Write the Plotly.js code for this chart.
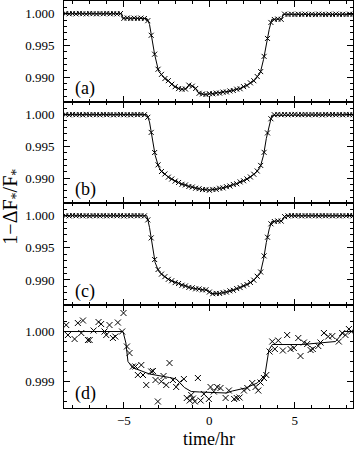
<!DOCTYPE html>
<html>
<head>
<meta charset="utf-8">
<script src="https://cdn.plot.ly/plotly-3.0.1.min.js"></script>
<style>
  html, body { margin: 0; padding: 0; background: #fff; }
  #chart { width: 356px; height: 450px; }
</style>
</head>
<body>
<div id="chart"></div>
<script>
// observation times (hr) shared by panels (a)-(c)
const obsTime = [-8.4,-8.2,-8.0,-7.8,-7.6,-7.4,-7.2,-7.0,-6.8,-6.6,-6.4,-6.2,-6.0,-5.8,-5.6,-5.4,-5.2,
  -5.0,-4.8,-4.6,-4.4,-4.2,-4.0,-3.8,-3.6,-3.4,-3.2,-3.0,-2.8,-2.6,-2.4,-2.2,-2.0,-1.8,-1.6,-1.4,-1.2,
  -1.0,-0.8,-0.6,-0.4,-0.2,0.0,0.2,0.4,0.6,0.8,1.0,1.2,1.4,1.6,1.8,2.0,2.2,2.4,2.6,2.8,3.0,3.2,3.4,
  3.6,3.8,4.0,4.2,4.4,4.6,4.8,5.0,5.2,5.4,5.6,5.8,6.0,6.2,6.4,6.6,6.8,7.0,7.2,7.4,7.6,7.8,8.0,8.2,8.4];

// panel (a)
const fluxA = [1.00003,0.99998,1.00002,0.99997,1.00004,1.00000,0.99996,1.00003,1.00001,0.99997,1.00002,0.99999,
  1.00004,0.99998,1.00001,0.99997,1.00002,
  0.99927,0.99932,0.99925,0.99930,0.99926,0.99931,0.99924,
  0.99890,0.99660,0.99362,0.99125,0.99044,0.98978,0.98945,0.98888,0.98850,0.98820,
  0.98810,0.98814,0.98875,0.98858,0.98822,0.98746,0.98736,0.98727,0.98740,0.98738,
  0.98750,0.98749,0.98765,0.98767,0.98783,0.98790,0.98811,0.98818,0.98851,0.98869,
  0.98911,0.98944,0.99010,0.99088,0.99328,0.99610,0.99862,0.99909,0.99916,0.99911,
  0.99993,
  0.99988,0.99993,0.99987,0.99992,0.99989,0.99994,0.99988,0.99991,0.99986,0.99993,
  0.99990,0.99987,0.99992,0.99988,0.99994,0.99989,0.99991,0.99987,0.99993,0.99990];
const modelTimeA = [-8.5,-5.12,-5.1,-3.65,-3.5,-3.36,-3.2,-2.97,-2.68,-2.39,-1.99,-1.61,-1.32,-1.16,-0.87,
  -0.63,-0.34,0.05,0.64,1.22,1.81,2.29,2.68,2.98,3.17,3.33,3.5,3.65,4.24,4.3,8.4];
const modelA = [1.0000,1.0000,0.99930,0.99925,0.99832,0.99595,0.99358,0.99095,0.99000,0.98938,0.98843,
  0.98806,0.98822,0.98885,0.98843,0.98754,0.98727,0.98738,0.98754,0.98780,0.98822,0.98885,0.98964,
  0.99070,0.99280,0.99516,0.99753,0.99911,0.99915,0.99990,0.99990];

// panel (b)
const fluxB = [1.00002,0.99997,1.00003,0.99999,1.00001,0.99996,1.00004,0.99998,1.00002,1.00000,0.99997,1.00003,
  0.99999,1.00002,0.99996,1.00001,1.00003,0.99998,1.00000,0.99997,1.00002,0.99999,1.00003,0.99998,
  0.99958,0.99720,0.99403,0.99209,0.99104,0.99065,0.99015,0.98986,0.98953,0.98931,
  0.98903,0.98892,0.98868,0.98860,0.98841,0.98834,0.98820,0.98819,0.98809,0.98822,
  0.98823,0.98840,0.98846,0.98865,0.98876,0.98900,0.98911,0.98940,0.98958,0.98987,
  0.99018,0.99061,0.99112,0.99200,0.99406,0.99712,0.99935,
  0.99998,1.00003,0.99999,1.00002,0.99997,1.00001,1.00004,0.99998,1.00000,1.00003,0.99997,1.00002,
  0.99999,1.00001,0.99996,1.00003,0.99999,1.00002,0.99998,1.00001,0.99997,1.00003,1.00000,0.99998];
const modelTimeB = [-8.5,-3.65,-3.5,-3.36,-3.17,-2.97,-2.78,-2.29,-1.71,-1.12,-0.53,-0.04,0.45,1.03,1.62,
  2.2,2.68,2.98,3.17,3.33,3.5,3.65,8.4];
const modelB = [1.0000,1.0000,0.99885,0.99649,0.99361,0.99178,0.99100,0.98995,0.98916,0.98864,0.98827,
  0.98811,0.98827,0.98864,0.98916,0.98984,0.99073,0.99178,0.99361,0.99623,0.99832,0.99990,1.0000];

// panel (c)
const fluxC = [1.00001,0.99997,1.00004,0.99999,1.00002,0.99998,1.00001,0.99996,1.00003,1.00000,0.99998,1.00002,
  0.99997,1.00001,1.00003,0.99999,1.00002,0.99996,1.00001,0.99998,1.00003,0.99999,1.00001,0.99997,
  0.99935,0.99655,0.99318,0.99163,0.99091,0.99052,0.99010,0.98988,0.98959,0.98945,
  0.98918,0.98907,0.98884,0.98878,0.98862,0.98860,0.98846,0.98847,0.98812,0.98786,
  0.98791,0.98790,0.98804,0.98811,0.98831,0.98840,0.98866,0.98882,0.98909,0.98929,
  0.98961,0.98997,0.99057,0.99124,0.99375,0.99665,0.99874,0.99910,0.99919,0.99916,
  0.99986,
  0.99998,1.00002,0.99999,1.00003,0.99997,1.00001,0.99998,1.00002,1.00000,0.99997,
  1.00003,0.99999,1.00001,0.99998,1.00002,0.99997,1.00001,0.99999,1.00003,0.99998];
const modelTimeC = [-8.5,-3.65,-3.5,-3.36,-3.17,-2.97,-2.68,-2.29,-1.71,-1.12,-0.53,-0.05,0.05,0.44,0.83,
  1.42,2.0,2.49,2.98,3.17,3.33,3.5,3.65,4.24,4.44,8.4];
const modelC = [1.0000,1.0000,0.99818,0.99583,0.99271,0.99140,0.99063,0.98995,0.98932,0.98880,0.98854,
  0.98839,0.98792,0.98786,0.98802,0.98844,0.98906,0.98969,0.99104,0.99323,0.99583,0.99792,0.99911,
  0.99920,1.0000,1.0000];

// panel (d)
const timeD = [-8.37,-8.27,-7.88,-7.69,-7.49,-7.39,-7.10,-7.00,-6.77,-6.48,-6.33,-6.13,-6.03,-5.84,-5.64,
  -5.50,-5.35,-5.10,-5.02,-4.82,-4.67,-4.47,-4.32,-4.18,-3.98,-3.88,-3.69,-3.40,-3.30,-3.15,-3.01,-2.81,
  -2.68,-2.52,-2.33,-2.13,-1.94,-1.74,-1.49,-1.32,-1.15,-1.06,-0.96,-0.85,-0.67,-0.51,-0.32,-0.03,0.07,
  0.26,0.46,0.65,0.95,1.14,1.45,1.60,1.77,2.02,2.22,2.51,2.70,2.86,2.99,3.19,3.33,3.52,3.68,3.83,4.03,
  4.30,4.55,4.75,4.94,5.20,5.33,5.53,5.72,5.92,6.05,6.37,6.50,6.70,6.95,7.19,7.57,7.77,7.96,8.16,8.30];
const fluxD = [1.00013,0.99993,0.99985,1.00017,0.99997,1.00022,0.99983,0.99983,1.00002,1.00019,1.00015,
  1.00000,0.99993,1.00013,0.99987,0.99990,1.00018,1.00000,1.00037,0.99970,0.99957,0.99930,0.99930,0.99913,
  0.99933,0.99913,0.99893,0.99920,0.99921,0.99903,0.99860,0.99900,0.99911,0.99893,0.99937,0.99903,0.99889,
  0.99898,0.99905,0.99867,0.99862,0.99873,0.99866,0.99860,0.99907,0.99862,0.99875,0.99865,0.99889,0.99880,
  0.99889,0.99887,0.99867,0.99882,0.99865,0.99867,0.99868,0.99882,0.99887,0.99897,0.99889,0.99882,0.99898,
  0.99907,0.99913,0.99960,0.99980,0.99965,0.99982,0.99962,0.99993,0.99965,0.99967,0.99987,0.99951,0.99978,
  0.99975,0.99963,0.99965,0.99971,0.99978,0.99997,0.99990,0.99991,0.99980,0.99997,0.99993,1.00005,1.00000];
const modelTimeD = [-8.5,-5.05,-4.88,-4.76,-4.5,-3.5,-2.33,-1.94,-1.46,-1.06,-0.57,1.0,1.34,2.12,2.8,3.25,
  3.48,3.68,5.43,7.38,7.87,8.4];
const modelD = [1.0000,1.0000,0.99977,0.99940,0.99928,0.99915,0.99908,0.99905,0.99888,0.99880,0.99879,
  0.99877,0.99881,0.99887,0.99897,0.99913,0.99963,0.99974,0.99974,0.99980,1.0000,1.0000];

const panelLabels = ["(a)", "(b)", "(c)", "(d)"];
const xTitle = "time/hr";
const yTitle = "1\u2212\u0394F<sub>*</sub>/F<sub>*</sub>";

const serif = "'Liberation Serif', 'DejaVu Serif', serif";

function pts(x, y, ax, size) {
  return {
    x: x, y: y, xaxis: "x" + ax, yaxis: "y" + ax,
    type: "scatter", mode: "markers",
    marker: { symbol: "x-thin-open", size: size, color: "black", line: { color: "black", width: 1 } },
    hoverinfo: "skip"
  };
}

function line(x, y, ax) {
  return {
    x: x, y: y, xaxis: "x" + ax, yaxis: "y" + ax,
    type: "scatter", mode: "lines",
    line: { color: "black", width: 1 },
    hoverinfo: "skip"
  };
}

const data = [
  line(modelTimeA, modelA, ""), pts(obsTime, fluxA, "", 5),
  line(modelTimeB, modelB, "2"), pts(obsTime, fluxB, "2", 5),
  line(modelTimeC, modelC, "3"), pts(obsTime, fluxC, "3", 5),
  line(modelTimeD, modelD, "4"), pts(timeD, fluxD, "4", 6)
];

const frame = {
  showline: true, linecolor: "black", linewidth: 1, mirror: "allticks",
  ticks: "inside", ticklen: 6, tickwidth: 1, tickcolor: "black",
  showgrid: false, zeroline: false,
  tickfont: { family: serif, size: 13, color: "black" }
};

function xAxis(anchor, labels) {
  return Object.assign({}, frame, {
    anchor: anchor, range: [-8.5, 8.4], tick0: 0, dtick: 5,
    showticklabels: labels, ticklabelstandoff: 0,
    minor: { dtick: 1, tick0: 0, ticks: "inside", ticklen: 3, tickcolor: "black", showgrid: false }
  });
}

function yAxis(anchor, domain, range, dtick, minorDtick) {
  return Object.assign({}, frame, {
    anchor: anchor, domain: domain, range: range, tick0: 1, dtick: dtick,
    tickformat: ".3f", ticklabelstandoff: 6,
    minor: { dtick: minorDtick, tick0: 1, ticks: "inside", ticklen: 3, tickcolor: "black", showgrid: false }
  });
}

const bigRange = [0.9861, 1.0020];

const layout = {
  width: 356, height: 450,
  margin: { l: 64, r: 3, t: 1, b: 42 },
  paper_bgcolor: "white", plot_bgcolor: "white",
  showlegend: false,
  font: { family: serif, size: 13, color: "black" },
  xaxis: xAxis("y", false),
  xaxis2: xAxis("y2", false),
  xaxis3: xAxis("y3", false),
  xaxis4: xAxis("y4", true),
  yaxis: yAxis("x", [0.752, 1], bigRange, 0.005, 0.001),
  yaxis2: yAxis("x2", [0.504, 0.752], bigRange, 0.005, 0.001),
  yaxis3: yAxis("x3", [0.253, 0.504], bigRange, 0.005, 0.001),
  yaxis4: yAxis("x4", [0, 0.253], [0.99847, 1.00053], 0.001, 0.0002),
  annotations: [
    { text: panelLabels[0], xref: "x domain", yref: "y domain", x: 0.03, y: 0.13 },
    { text: panelLabels[1], xref: "x2 domain", yref: "y2 domain", x: 0.03, y: 0.13 },
    { text: panelLabels[2], xref: "x3 domain", yref: "y3 domain", x: 0.03, y: 0.13 },
    { text: panelLabels[3], xref: "x4 domain", yref: "y4 domain", x: 0.03, y: 0.14 }
  ].map(a => Object.assign(a, {
    showarrow: false, xanchor: "left", yanchor: "middle",
    font: { family: serif, size: 18, color: "black" }
  })).concat([
    {
      text: xTitle, xref: "x4", yref: "paper", x: 0, y: -0.1032,
      showarrow: false, xanchor: "center", yanchor: "bottom", borderpad: 0,
      font: { family: serif, size: 18, color: "black" }
    },
    {
      text: yTitle, xref: "paper", yref: "paper", x: -0.183, y: 0.495,
      textangle: -90, showarrow: false, xanchor: "center", yanchor: "middle",
      font: { family: serif, size: 20, color: "black" }
    }
  ])
};

Plotly.newPlot("chart", data, layout, { displayModeBar: false, staticPlot: true });
</script>
</body>
</html>
